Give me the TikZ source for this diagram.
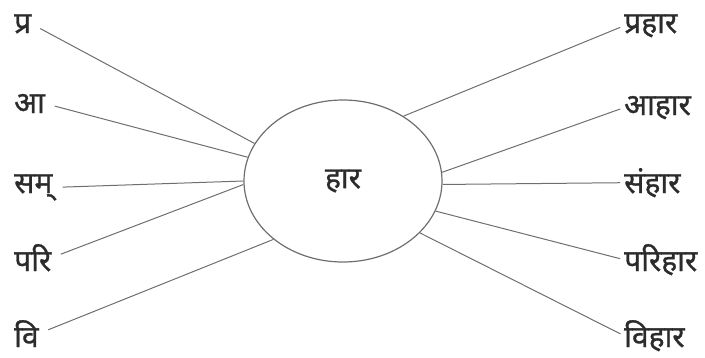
\documentclass[tikz,border=0pt]{standalone}
\usepackage{fontspec}
\newfontfamily\hindifont[Script=Devanagari, FakeBold=1]{Noto Sans}
\usetikzlibrary{shapes.geometric}
\definecolor{inkcol}{HTML}{2B2B2B}
\definecolor{linecol}{HTML}{6E6E6E}

\begin{document}
\begin{tikzpicture}[x=1pt, y=-1pt,
    word/.style={font=\hindifont\fontsize{30}{36}\selectfont, text=inkcol,
                 inner sep=0pt, anchor=base west},
    hub/.style={ellipse, draw=linecol, line width=1.2pt, minimum width=198pt,
                minimum height=162pt, inner sep=0pt, text=inkcol,
                font=\hindifont\fontsize{30}{36}\selectfont},
    conn/.style={linecol, line width=1pt}
  ]
  \useasboundingbox (0,0) rectangle (705,357);

  % ---- Central word ----
  \node[hub] (hub) at (343,181) {हार};

  % ---- Prefixes (left) ----
  \foreach \name/\word/\base/\ang in {pra/प्र/33/157, aa/आ/113/166,
      sam/सम्/193/180, pari/परि/271/182, vi/वि/347/220} {
    \node[word] (\name) at (14,\base) {\word};
    \draw[conn, shorten <=10pt] (\name.east) -- (hub.\ang);
  }

  % ---- Derived words (right) ----
  \foreach \name/\word/\base/\ang in {prahar/प्रहार/33/47, aahar/आहार/115/5,
      sanhar/संहार/193/358, parihar/परिहार/271/342, vihar/विहार/347/326} {
    \node[word] (\name) at (624,\base) {\word};
    \draw[conn, shorten >=4pt] (hub.\ang) -- (\name.west);
  }

\end{tikzpicture}
\end{document}
